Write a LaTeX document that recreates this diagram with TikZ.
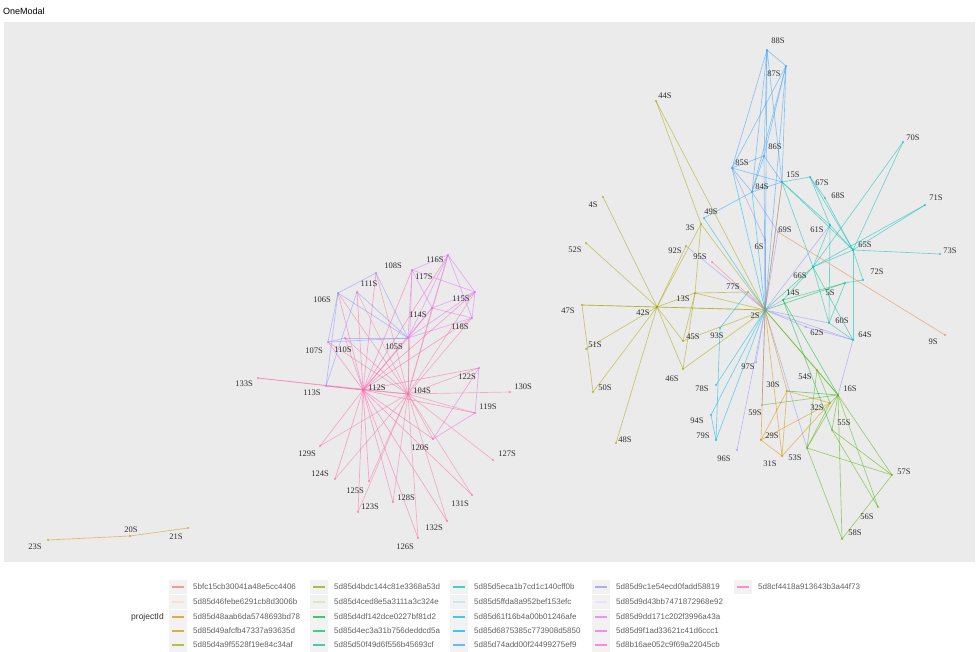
\documentclass[tikz,border=0pt]{standalone}
\usepackage{fontspec}
\setmainfont{Liberation Serif}
\newfontfamily\lsans{Liberation Sans}
\definecolor{cRed}{HTML}{F8766D}
\definecolor{cOr}{HTML}{EB8335}
\definecolor{cOrB}{HTML}{DA8F00}
\definecolor{cOl}{HTML}{C49A00}
\definecolor{cOlB}{HTML}{A9A400}
\definecolor{cYG}{HTML}{86AC00}
\definecolor{cGA}{HTML}{53B400}
\definecolor{cGB}{HTML}{00BA38}
\definecolor{cGC}{HTML}{00BE6C}
\definecolor{cTA}{HTML}{00C094}
\definecolor{cTB}{HTML}{00C1B7}
\definecolor{cTC}{HTML}{00BFD4}
\definecolor{cCA}{HTML}{00BAE9}
\definecolor{cBA}{HTML}{00B2F8}
\definecolor{cBB}{HTML}{35A2FF}
\definecolor{cVA}{HTML}{8F91FF}
\definecolor{cVB}{HTML}{BF80FF}
\definecolor{cMA}{HTML}{E070FF}
\definecolor{cMB}{HTML}{F365E6}
\definecolor{cMC}{HTML}{FE61CF}
\definecolor{cPk}{HTML}{FF65AE}
\definecolor{cPl}{HTML}{F57AA6}
\tikzset{
  edge/.style={line width=0.65pt, opacity=0.55, line cap=round},
  lab/.style={font=\fontsize{8.5}{9}\selectfont, text=black!82, inner sep=0pt},
  lgt/.style={font=\lsans\fontsize{8}{9}\selectfont, text=black!62, anchor=west, inner sep=0pt},
  keybg/.style={fill=black!5},
  keyln/.style={line width=1.1pt},
}
\newcommand\lgkey[5]{%
  \fill[keybg] (#1-3,#2-7) rectangle (#1+15,#2+7);
  \draw[keyln, draw=#3!#4!white] (#1,#2) -- (#1+12,#2);
  \node[lgt] at (#1+21,#2) {#5};}
\begin{document}
\begin{tikzpicture}[x=1pt,y=-1pt]
\useasboundingbox (0,0) rectangle (977,652);
\fill[white] (0,0) rectangle (977,652);
\fill[black!8] (4,22) rectangle (975,562);
\node[font=\lsans\fontsize{9}{10}\selectfont, anchor=west, inner sep=0pt] (title) at (3,11) {OneModal};

% nodes
\foreach \n/\x/\y in {
 108/376/273, 116/448/255, 117/412/270, 111/357/292, 106/338/293, 115/475/292,
 114/432/308, 118/472/318, 105/408/338, 107/328/342, 110/345/338, 113/326/386,
 133/258/378, 112/363/390, 104/408/394, 122/479/368, 130/510/392, 119/475/413,
 120/433/439, 127/493/460, 129/320/446, 124/335/479, 125/369/481, 123/358/512,
 128/393/502, 131/472/495, 132/447/521, 126/418/538,
 23/48/540, 20/130/536, 21/188/528,
 88/767/50, 87/786/66, 86/764/156, 85/732/168, 84/752/192, 15/782/182,
 67/810/177, 68/825/198, 44/656/101, 4/603/197, 52/586/243, 49/704/218,
 3/701/224, 92/686/246, 95/712/262, 6/765/240, 69/778/232, 61/830/225,
 65/853/250, 70/903/142, 71/925/205, 73/940/254, 72/863/280, 66/813/267,
 14/783/300, 5/845/283, 60/829/323, 62/806/327, 64/853/340, 9/945/335,
 77/748/292, 2/765/310, 13/695/293, 42/657/307, 47/582/305, 51/586/349,
 50/593/392, 48/616/443, 45/683/341, 93/720/328, 46/683/369, 78/716/385,
 97/756/362, 94/711/415, 79/716/440, 96/737/450, 59/762/405, 30/787/391,
 54/817/370, 16/838/395, 32/830/403, 29/761/440, 31/782/456, 53/807/448,
 55/832/430, 57/892/475, 56/878/507, 58/842/539}
{\coordinate (n\n) at (\x,\y);}

% ---------- left cluster edges
\foreach \b in {112,105,114,116,117,115,118,122,130,119,120,127,131,132,126,128,123,125,124,129,111,108,110,106,113,107,133}
  \draw[edge,cPl] (n104) -- (n\b);
\foreach \b in {133,113,107,110,106,111,108,105,117,116,114,115,118,129,124,125,123,128,126,120,119,122,132,131}
  \draw[edge,cPk] (n112) -- (n\b);
\foreach \a/\b in {106/108,106/107,107/105,108/105,106/105,111/113,107/110,110/105,106/113,111/105}
  \draw[edge,cVA] (n\a) -- (n\b);
\foreach \a/\b in {117/116,116/115,116/118,115/118,114/116,114/115,114/118,105/116,105/115,105/117,117/115,105/118,114/117,105/114}
  \draw[edge,cMA] (n\a) -- (n\b);
\foreach \a/\b in {122/119,119/120,122/120}
  \draw[edge,cMB] (n\a) -- (n\b);

% ---------- bottom-left
\draw[edge,cOrB] (n23) -- (n20);
\draw[edge,cOrB] (n20) -- (n21);

% ---------- right cluster edges
\foreach \a/\b in {88/87,88/86,88/84,88/85,88/15,87/85,87/86,87/84,87/15,86/85,86/84,86/15,85/84,85/15,84/15,84/49,88/2,86/2,87/2}
  \draw[edge,cBB] (n\a) -- (n\b);
\foreach \a/\b in {85/2,84/2,49/2}
  \draw[edge,cCA] (n\a) -- (n\b);
\foreach \b in {6,92,69,61,15,62,64,60,59,97,53,77,14,96}
  \draw[edge,cVA] (n2) -- (n\b);
\foreach \a/\b in {85/6,84/69,16/64,62/64}
  \draw[edge,cVA] (n\a) -- (n\b);
\foreach \a/\b in {44/2,44/3,3/42,3/2,3/13,4/42,52/42,47/42,47/2,47/50,51/42,50/42,48/42,42/13,42/2,42/45,42/46,13/2,13/45,13/46,45/2,46/2,13/77,92/42}
  \draw[edge,cOlB] (n\a) -- (n\b);
\foreach \a/\b in {15/67,67/68,68/65,67/65,61/65,65/70,65/71,65/73,65/72,65/64,66/65,66/61,66/60,66/15,15/65,64/60,61/60,72/5,71/66,70/66,67/61,15/61}
  \draw[edge,cTB] (n\a) -- (n\b);
\foreach \a/\b in {66/2,66/14,66/64,5/60,5/14}
  \draw[edge,cTA] (n\a) -- (n\b);
\foreach \a/\b in {14/16,14/55,2/5,16/30}
  \draw[edge,cGB] (n\a) -- (n\b);
\foreach \a/\b in {15/2,2/30,2/29,2/31,30/29,30/31,29/31,29/32,31/32,30/32}
  \draw[edge,cOrB] (n\a) -- (n\b);
\draw[edge,cOr] (n9) -- (n69);
\draw[edge,cRed] (n95) -- (n2);
\foreach \a/\b in {16/54,16/32,16/55,16/57,16/58,16/53,16/56,16/2,54/53,54/32,32/53,53/57,53/58,57/58,56/55,55/57,54/2,16/59}
  \draw[edge,cGA] (n\a) -- (n\b);
\foreach \a/\b in {2/79,2/94,2/78,93/79,77/93,94/79}
  \draw[edge,cCA] (n\a) -- (n\b);

% ---------- node dots
\foreach \n/\c in {108/cVA,116/cMA,117/cMA,111/cPk,106/cVA,115/cMA,114/cMA,118/cMA,105/cMA,107/cVA,110/cPk,113/cMA,133/cPk,112/cPk,104/cPk,122/cMA,130/cPk,119/cPk,120/cPk,127/cPk,129/cPk,124/cPk,125/cPk,123/cPk,128/cPk,131/cPk,132/cPk,126/cPk,23/cOrB,20/cOrB,21/cOrB,88/cBB,87/cBB,86/cBB,85/cBB,84/cBB,15/cBB,67/cTB,68/cTB,44/cOlB,4/cOlB,52/cOlB,49/cBB,3/cOlB,92/cOlB,95/cRed,6/cVA,69/cVA,61/cTB,65/cTB,70/cTB,71/cTB,73/cTB,72/cTB,66/cTB,14/cGB,5/cTB,60/cTB,62/cVA,64/cTB,9/cOr,77/cOlB,2/cVA,13/cOlB,42/cYG,47/cOlB,51/cOlB,50/cOlB,48/cOlB,45/cOlB,93/cCA,46/cOlB,78/cCA,97/cVA,94/cCA,79/cCA,96/cVA,59/cVA,30/cOrB,54/cYG,16/cYG,32/cOrB,29/cOrB,31/cOrB,53/cYG,55/cYG,57/cYG,56/cYG,58/cYG}
  \fill[\c, opacity=0.7] (n\n) circle (1.1pt);

% ---------- labels
\foreach \n/\lx/\ly in {108/393/266,116/435/260,117/424/277,111/369/284,106/322/300,115/461/299,
 114/418/315,118/460/327,105/394/347,107/314/351,110/343/350,113/312/393,133/244/384,
 112/377/388,104/422/391,122/467/377,130/523/387,119/488/407,120/420/448,127/507/454,
 129/307/454,124/320/474,125/355/491,123/370/507,128/406/498,131/460/504,132/434/528,
 126/405/547,23/35/547,20/131/530,21/176/537,88/778/41,87/774/74,86/775/147,85/742/163,
 84/762/187,15/793/175,67/822/183,68/838/196,44/665/96,4/593/205,52/575/250,49/711/212,
 3/690/228,92/675/251,95/700/257,6/759/247,69/785/230,61/817/230,65/865/245,70/913/138,
 71/936/198,73/950/251,72/877/272,66/800/276,14/793/293,5/830/293,60/842/321,62/817/333,
 64/865/335,9/933/342,77/733/287,2/755/316,13/683/299,42/643/313,47/568/311,51/595/345,
 50/605/388,48/625/440,45/693/337,93/717/336,46/672/379,78/702/389,97/748/367,94/697/421,
 79/703/436,96/724/459,59/755/413,30/773/385,54/805/377,16/850/389,32/817/408,29/772/436,
 31/770/464,53/795/458,55/844/423,57/904/472,56/867/517,58/855/533}
  \node[lab] (l\n) at (\lx,\ly) {\n S};

% ---------- legend
\node[font=\lsans\fontsize{8.5}{9}\selectfont, text=black!80, anchor=east, inner sep=0pt] (ptitle) at (164,617) {projectId};
\lgkey{172}{587}{cRed}{75}{5bfc15cb30041a48e5cc4406}
\lgkey{172}{602}{cOr}{25}{5d85d46febe6291cb8d3006b}
\lgkey{172}{617}{cOrB}{75}{5d85d48aab6da5748693bd78}
\lgkey{172}{631}{cOl}{75}{5d85d49afcfb47337a93635d}
\lgkey{172}{645}{cOlB}{75}{5d85d4a9f5528f19e84c34af}
\lgkey{313}{587}{cYG}{75}{5d85d4bdc144c81e3368a53d}
\lgkey{313}{602}{cGA}{25}{5d85d4ced8e5a3111a3c324e}
\lgkey{313}{617}{cGB}{75}{5d85d4df142dce0227bf81d2}
\lgkey{313}{631}{cGC}{75}{5d85d4ec3a31b756deddcd5a}
\lgkey{313}{645}{cTA}{75}{5d85d50f49d6f556b45693cf}
\lgkey{453}{587}{cTB}{75}{5d85d5eca1b7cd1c140cff0b}
\lgkey{453}{602}{cTC}{25}{5d85d5ffda8a952bef153efc}
\lgkey{453}{617}{cCA}{75}{5d85d61f16b4a00b01246afe}
\lgkey{453}{631}{cBA}{75}{5d85d6875385c773908d5850}
\lgkey{453}{645}{cBB}{75}{5d85d74add00f24499275ef9}
\lgkey{595}{587}{cVA}{75}{5d85d9c1e54ecd0fadd58819}
\lgkey{595}{602}{cVB}{25}{5d85d9d43bb7471872968e92}
\lgkey{595}{617}{cMA}{75}{5d85d9dd171c202f3996a43a}
\lgkey{595}{631}{cMB}{75}{5d85d9f1ad33621c41d6ccc1}
\lgkey{595}{645}{cMC}{75}{5d8b16ae052c9f69a22045cb}
\lgkey{737}{587}{cPk}{75}{5d8cf4418a913643b3a44f73}
\end{tikzpicture}
\end{document}
